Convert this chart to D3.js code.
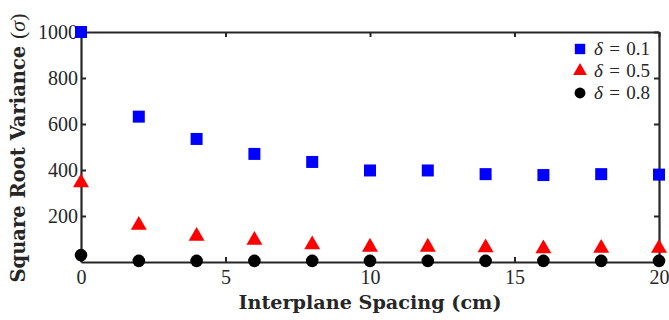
<!DOCTYPE html>
<html>
<head>
<meta charset="utf-8">
<script src="https://cdn.jsdelivr.net/npm/d3@7"></script>
<style>
  body { margin: 0; background: #fff; }
</style>
</head>
<body>
<div id="chart"></div>
<script>
// datos
const spacing = [0, 2, 4, 6, 8, 10, 12, 14, 16, 18, 20];
const delta01 = [1000, 632, 535, 470, 435, 398, 398, 382, 378, 382, 380];
const delta05 = [345, 160, 112, 95, 75, 65, 65, 62, 58, 60, 60];
const delta08 = [30, 5, 5, 5, 5, 5, 5, 5, 5, 5, 5];
const xTicks = [0, 5, 10, 15, 20];
const yTicks = [200, 400, 600, 800, 1000];

const series = [
  { label: "0.1", values: delta01, color: "#0000ff", shape: d3.symbolSquare, size: 144 },
  { label: "0.5", values: delta05, color: "#ff0000", shape: d3.symbolTriangle, size: 110 },
  { label: "0.8", values: delta08, color: "#000000", shape: d3.symbolCircle, size: 125 }
];

const FONT = "'Liberation Serif', 'Times New Roman', serif";
const TITLE_FONT = "'DejaVu Serif', serif";
const width = 669, height = 320;
const margin = { left: 81, top: 32 };
const plotRight = 659, plotBottom = 262;

const svg = d3.select("#chart").append("svg")
  .attr("width", width).attr("height", height);

const x = d3.scaleLinear().domain([0, 20]).range([margin.left, plotRight]);
const y = d3.scaleLinear().domain([0, 1000]).range([plotBottom, margin.top]);

const tickLen = 5;

// ejes (ticks hacia dentro en los cuatro lados)
const axisStyle = g => {
  g.attr("font-family", FONT).attr("font-size", 20);
  g.select(".domain").attr("stroke", "#262626").attr("stroke-width", 2.2);
  g.selectAll(".tick line").attr("stroke", "#262626").attr("stroke-width", 2);
  g.selectAll(".tick text").attr("fill", "#262626");
};

svg.append("g")
  .attr("transform", `translate(0,${plotBottom})`)
  .call(d3.axisBottom(x).tickValues(xTicks).tickSizeInner(-tickLen).tickSizeOuter(0).tickPadding(8))
  .call(axisStyle);

svg.append("g")
  .attr("transform", `translate(0,${margin.top})`)
  .call(d3.axisTop(x).tickValues(xTicks).tickSizeInner(-tickLen).tickSizeOuter(0).tickFormat(""))
  .call(axisStyle);

svg.append("g")
  .attr("transform", `translate(${margin.left},0)`)
  .call(d3.axisLeft(y).tickValues(yTicks).tickFormat(d3.format("d")).tickSizeInner(-tickLen).tickSizeOuter(0).tickPadding(3))
  .call(axisStyle);

svg.append("g")
  .attr("transform", `translate(${plotRight},0)`)
  .call(d3.axisRight(y).tickValues(yTicks).tickSizeInner(-tickLen).tickSizeOuter(0).tickFormat(""))
  .call(axisStyle);

// marcadores
series.forEach(s => {
  svg.append("g")
    .selectAll("path")
    .data(spacing.map((d, i) => [d, s.values[i]]))
    .join("path")
    .attr("d", d3.symbol().type(s.shape).size(s.size))
    .attr("transform", d => `translate(${x(d[0])},${y(d[1])})`)
    .attr("fill", s.color);
});

// títulos de los ejes
svg.append("text")
  .attr("x", 370)
  .attr("y", 309)
  .attr("text-anchor", "middle")
  .attr("font-family", TITLE_FONT)
  .attr("font-size", 19.2)
  .attr("font-weight", "bold")
  .attr("fill", "#262626")
  .text("Interplane Spacing (cm)");

const yLabel = svg.append("text")
  .attr("transform", "translate(25,148) rotate(-90)")
  .attr("text-anchor", "middle")
  .attr("font-family", TITLE_FONT)
  .attr("font-size", 19.5)
  .attr("fill", "#262626");
yLabel.append("tspan").attr("font-weight", "bold").text("Square Root Variance ");
yLabel.append("tspan").attr("font-family", FONT).attr("font-size", 22).text("(");
yLabel.append("tspan").attr("font-family", FONT).attr("font-size", 22).attr("font-style", "italic").text("σ");
yLabel.append("tspan").attr("font-family", FONT).attr("font-size", 22).text(")");

// leyenda
const legend = svg.append("g");
series.forEach((s, i) => {
  const ly = 49 + i * 22;
  legend.append("path")
    .attr("d", d3.symbol().type(s.shape).size(s.size * 0.75))
    .attr("transform", `translate(580,${ly})`)
    .attr("fill", s.color);
  const t = legend.append("text")
    .attr("x", 594)
    .attr("y", ly + 6)
    .attr("font-family", FONT)
    .attr("font-size", 19)
    .attr("fill", "#262626");
  t.append("tspan").attr("font-style", "italic").text("δ");
  t.append("tspan").text("\u2004=\u2004" + s.label);
});
</script>
</body>
</html>
